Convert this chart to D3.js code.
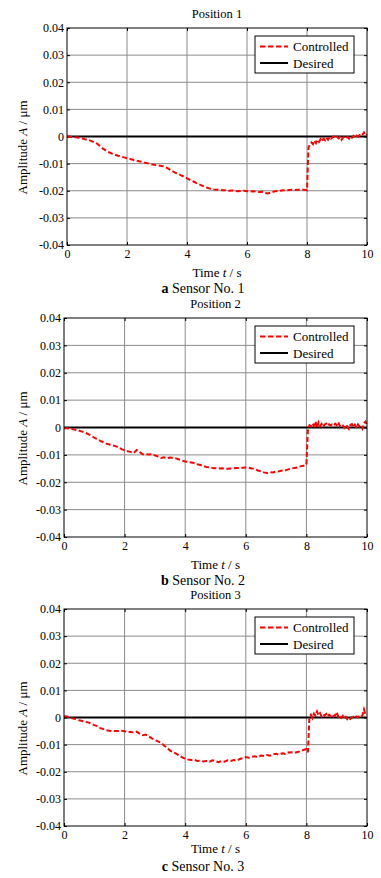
<!DOCTYPE html>
<html>
<head>
<meta charset="utf-8">
<script src="https://cdn.jsdelivr.net/npm/d3@7"></script>
<style>
  body { margin: 0; background: #fff; }
  svg { display: block; font-family: "Liberation Serif", "Times New Roman", serif; }
</style>
</head>
<body>
<svg id="chart"></svg>
<script>
/* global d3 */

// time grid: 0..8 s every 0.1 s, then 8.05..10 s every 0.05 s
const timeCoarse = d3.range(0, 81).map(i => i / 10);
const timeFine = d3.range(1, 41).map(i => 8 + i * 0.05);
const times = timeCoarse.concat(timeFine);

const xTicks = [0, 2, 4, 6, 8, 10];
const yTicks = [-0.04, -0.03, -0.02, -0.01, 0, 0.01, 0.02, 0.03, 0.04];

const titles = ['Position 1', 'Position 2', 'Position 3'];
const captionLetters = ['a', 'b', 'c'];
const captionTexts = [' Sensor No. 1', ' Sensor No. 2', ' Sensor No. 3'];
const legendLabels = ['Controlled', 'Desired'];

const controlled1 = [
  0, -0.0001, -0.0002, -0.0003, -0.0005, -0.0007, -0.0010, -0.0012, -0.0016, -0.0021,
  -0.0026, -0.0035, -0.0045, -0.0052, -0.0058, -0.0063, -0.0067, -0.0071, -0.0074, -0.0077,
  -0.0080, -0.0083, -0.0086, -0.0089, -0.0091, -0.0094, -0.0097, -0.0099, -0.0102, -0.0104,
  -0.0106, -0.0108, -0.0110, -0.0114, -0.0120, -0.0127, -0.0133, -0.0138, -0.0143, -0.0148,
  -0.0154, -0.0160, -0.0165, -0.0171, -0.0176, -0.0181, -0.0186, -0.0190, -0.0193, -0.0195,
  -0.0196, -0.0197, -0.0198, -0.0198, -0.0200, -0.0199, -0.0200, -0.0202, -0.0201, -0.0200,
  -0.0202, -0.0201, -0.0203, -0.0202, -0.0205, -0.0204, -0.0208, -0.0210, -0.0206, -0.0203,
  -0.0201, -0.0200, -0.0198, -0.0199, -0.0197, -0.0196, -0.0197, -0.0196, -0.0197, -0.0196,
  -0.0198,
  -0.0040, -0.0030, -0.0022, -0.0028, -0.0015, -0.0024, -0.0012, -0.0020, -0.0010, -0.0018,
  -0.0008, -0.0014, -0.0005, -0.0012, -0.0002, -0.0008, -0.0003, 0.0000, -0.0006, -0.0001,
  -0.0007, -0.0002, -0.0012, -0.0004, 0.0000, -0.0006, -0.0002, -0.0008, 0.0001, -0.0004,
  0.0002, -0.0003, 0.0003, -0.0001, 0.0005, 0.0001, 0.0007, 0.0015, 0.0004, 0.0008
];

const controlled2 = [
  -0.0003, -0.0003, -0.0004, -0.0006, -0.0009, -0.0012, -0.0015, -0.0019, -0.0024, -0.0030,
  -0.0037, -0.0043, -0.0049, -0.0054, -0.0059, -0.0062, -0.0065, -0.0068, -0.0073, -0.0079,
  -0.0083, -0.0087, -0.0089, -0.0093, -0.0082, -0.0090, -0.0098, -0.0097, -0.0099, -0.0097,
  -0.0102, -0.0106, -0.0111, -0.0109, -0.0112, -0.0110, -0.0111, -0.0113, -0.0117, -0.0121,
  -0.0124, -0.0126, -0.0128, -0.0130, -0.0134, -0.0137, -0.0141, -0.0144, -0.0146, -0.0148,
  -0.0149, -0.0150, -0.0149, -0.0150, -0.0151, -0.0150, -0.0149, -0.0148, -0.0148, -0.0147,
  -0.0146, -0.0147, -0.0150, -0.0152, -0.0157, -0.0160, -0.0164, -0.0166, -0.0163, -0.0164,
  -0.0161, -0.0160, -0.0157, -0.0157, -0.0153, -0.0150, -0.0148, -0.0146, -0.0142, -0.0140,
  -0.0136,
  -0.0005, 0.0008, 0.0004, 0.0015, 0.0006, 0.0022, -0.0002, 0.0018, 0.0005, 0.0013,
  0.0002, 0.0010, 0.0014, 0.0006, 0.0012, 0.0008, 0.0011, 0.0007, 0.0014, 0.0009,
  0.0020, 0.0006, 0.0012, 0.0008, -0.0001, 0.0010, 0.0004, -0.0005, 0.0009, 0.0012,
  0.0001, 0.0010, -0.0002, 0.0011, 0.0004, 0.0009, -0.0003, 0.0016, 0.0022, 0.0008
];

const controlled3 = [
  0.0005, 0.0004, 0.0000, -0.0004, -0.0006, -0.0010, -0.0013, -0.0016, -0.0018, -0.0023,
  -0.0028, -0.0032, -0.0039, -0.0043, -0.0047, -0.0049, -0.0051, -0.0050, -0.0050, -0.0049,
  -0.0051, -0.0055, -0.0053, -0.0056, -0.0052, -0.0060, -0.0065, -0.0063, -0.0070, -0.0077,
  -0.0083, -0.0088, -0.0093, -0.0103, -0.0111, -0.0122, -0.0128, -0.0133, -0.0140, -0.0147,
  -0.0152, -0.0155, -0.0157, -0.0156, -0.0160, -0.0159, -0.0162, -0.0160, -0.0163, -0.0158,
  -0.0161, -0.0165, -0.0160, -0.0163, -0.0158, -0.0160, -0.0157, -0.0159, -0.0153, -0.0150,
  -0.0146, -0.0148, -0.0145, -0.0143, -0.0146, -0.0140, -0.0142, -0.0138, -0.0141, -0.0136,
  -0.0134, -0.0137, -0.0132, -0.0134, -0.0129, -0.0128, -0.0131, -0.0127, -0.0125, -0.0120,
  -0.0116,
  -0.0128, 0.0002, 0.0010, -0.0002, 0.0014, 0.0006, 0.0022, 0.0008, 0.0016, 0.0004,
  0.0012, 0.0007, 0.0013, 0.0003, 0.0010, 0.0005, 0.0012, 0.0004, 0.0009, 0.0020,
  0.0003, 0.0008, -0.0001, 0.0006, -0.0004, 0.0002, -0.0006, -0.0001, -0.0005, 0.0000,
  0.0003, -0.0002, 0.0004, 0.0001, 0.0006, 0.0002, 0.0008, 0.0030, 0.0010, 0.0012
];

const desired = [0, 0];
const desiredTimes = [0, 10];

const controlledSeries = [controlled1, controlled2, controlled3];

//-------------------------------------------------

const WIDTH = 381;
const HEIGHT = 878;

// plot frame of each panel
const panels = [
  { top: 28, bottom: 245, left: 67, right: 367 },
  { top: 318, bottom: 537, left: 64, right: 367 },
  { top: 609, bottom: 826, left: 64, right: 367 },
];

const svg = d3.select('#chart')
  .attr('width', WIDTH)
  .attr('height', HEIGHT);

svg.append('rect')
  .attr('width', WIDTH)
  .attr('height', HEIGHT)
  .attr('fill', '#fff');

const renderPanel = function (p, i) {
  const x = d3.scaleLinear().domain([0, 10]).range([p.left, p.right]);
  const y = d3.scaleLinear().domain([-0.04, 0.04]).range([p.bottom, p.top]);
  const g = svg.append('g');
  const midX = (p.left + p.right) / 2;

  // grid
  g.append('g')
    .selectAll('line.vx')
    .data(xTicks.slice(1, -1))
    .join('line')
    .attr('x1', d => x(d)).attr('x2', d => x(d))
    .attr('y1', p.top).attr('y2', p.bottom)
    .attr('stroke', '#8a8a8a')
    .attr('stroke-width', 1);
  g.append('g')
    .selectAll('line.hy')
    .data(yTicks.slice(1, -1))
    .join('line')
    .attr('x1', p.left).attr('x2', p.right)
    .attr('y1', d => y(d)).attr('y2', d => y(d))
    .attr('stroke', '#8a8a8a')
    .attr('stroke-width', 1);

  // axes with inward ticks
  const fmtY = d => (d === 0 ? '0' : d.toFixed(2));
  const axisStyle = sel => {
    sel.select('.domain').remove();
    sel.selectAll('line').attr('stroke', '#000');
    sel.selectAll('text')
      .attr('fill', '#000')
      .attr('font-family', '"Liberation Serif", serif')
      .attr('font-size', 12);
  };

  g.append('g')
    .attr('transform', `translate(0,${p.bottom})`)
    .call(d3.axisBottom(x).tickValues(xTicks).tickSize(-3).tickPadding(4))
    .call(axisStyle);
  g.append('g')
    .attr('transform', `translate(0,${p.top})`)
    .call(d3.axisTop(x).tickValues(xTicks).tickSize(-3).tickFormat(''))
    .call(axisStyle);
  g.append('g')
    .attr('transform', `translate(${p.left},0)`)
    .call(d3.axisLeft(y).tickValues(yTicks).tickSize(-3).tickPadding(3).tickFormat(fmtY))
    .call(axisStyle);
  g.append('g')
    .attr('transform', `translate(${p.right},0)`)
    .call(d3.axisRight(y).tickValues(yTicks).tickSize(-3).tickFormat(''))
    .call(axisStyle);

  // lines
  const line = d3.line().x(d => x(d[0])).y(d => y(d[1]));
  g.append('path')
    .datum(desiredTimes.map((t, k) => [t, desired[k]]))
    .attr('d', line)
    .attr('fill', 'none')
    .attr('stroke', '#000')
    .attr('stroke-width', 2);
  g.append('path')
    .datum(times.map((t, k) => [t, controlledSeries[i][k]]))
    .attr('d', line)
    .attr('fill', 'none')
    .attr('stroke', '#ff0000')
    .attr('stroke-width', 2)
    .attr('stroke-dasharray', '5,2.5');

  // frame
  g.append('rect')
    .attr('x', p.left).attr('y', p.top)
    .attr('width', p.right - p.left).attr('height', p.bottom - p.top)
    .attr('fill', 'none')
    .attr('stroke', '#000')
    .attr('stroke-width', 1);

  // legend
  const lg = g.append('g')
    .attr('transform', `translate(${p.right - 112},${p.top + 8})`);
  lg.append('rect')
    .attr('width', 99).attr('height', 37)
    .attr('fill', '#fff')
    .attr('stroke', '#000')
    .attr('stroke-width', 1);
  legendLabels.forEach((label, k) => {
    const cy = 10.5 + k * 16.5;
    lg.append('line')
      .attr('x1', 5).attr('x2', 33)
      .attr('y1', cy).attr('y2', cy)
      .attr('stroke', k === 0 ? '#ff0000' : '#000')
      .attr('stroke-width', 2)
      .attr('stroke-dasharray', k === 0 ? '5.5,2.5' : null);
    lg.append('text')
      .attr('x', 38).attr('y', cy + 4.5)
      .attr('font-size', 13)
      .text(label);
  });

  // title
  g.append('text')
    .attr('x', midX).attr('y', p.top - 10)
    .attr('text-anchor', 'middle')
    .attr('font-size', 12.5)
    .text(titles[i]);

  // y label
  const yl = g.append('text')
    .attr('transform', `translate(27,${(p.top + p.bottom) / 2 + 11}) rotate(-90)`)
    .attr('text-anchor', 'middle')
    .attr('font-size', 13);
  yl.append('tspan').text('Amplitude ');
  yl.append('tspan').attr('font-style', 'italic').text('A');
  yl.append('tspan').text(' / μm');

  // x label
  const xl = g.append('text')
    .attr('x', midX).attr('y', p.bottom + (i === 2 ? 27 : 32))
    .attr('text-anchor', 'middle')
    .attr('font-size', 13);
  xl.append('tspan').text('Time ');
  xl.append('tspan').attr('font-style', 'italic').text('t');
  xl.append('tspan').text(' / s');

  // caption
  const cap = g.append('text')
    .attr('x', 203).attr('y', p.bottom + (i === 2 ? 45 : 48))
    .attr('text-anchor', 'middle')
    .attr('font-size', 14);
  cap.append('tspan').attr('font-weight', 'bold').text(captionLetters[i]);
  cap.append('tspan').text(captionTexts[i]);
};

panels.forEach(renderPanel);
</script>
</body>
</html>
